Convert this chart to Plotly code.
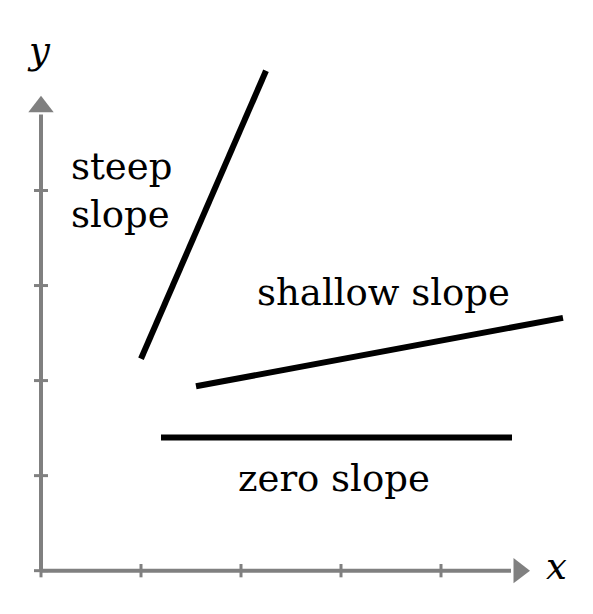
import plotly.graph_objects as go

# slope segments in axis units
line_names = ["steep", "shallow", "zero"]
line_x = [[1.0, 2.25], [1.55, 5.22], [1.2, 4.71]]
line_y = [[2.23, 5.26], [1.94, 2.66], [1.4, 1.4]]

tick_pos = [0, 1, 2, 3, 4]
labels = ["steep<br>slope", "shallow slope", "zero slope"]
label_x = [0.28, 3.42, 2.93]
label_y = [4.0, 2.93, 0.97]

gray = "#808080"
fig = go.Figure()

# axes
fig.add_trace(go.Scatter(x=[0, 0], y=[0, 4.8], mode="lines", line=dict(color=gray, width=4)))
fig.add_trace(go.Scatter(x=[0, 4.7], y=[0, 0], mode="lines", line=dict(color=gray, width=4)))
fig.add_trace(go.Scatter(x=[0], y=[4.88], mode="markers",
                         marker=dict(symbol="triangle-up", size=22, color=gray)))
fig.add_trace(go.Scatter(x=[4.78], y=[0], mode="markers",
                         marker=dict(symbol="triangle-right", size=22, color=gray)))

# ticks
for t in tick_pos:
    fig.add_trace(go.Scatter(x=[t, t], y=[-0.07, 0.07], mode="lines", line=dict(color=gray, width=3)))
    fig.add_trace(go.Scatter(x=[-0.07, 0.07], y=[t, t], mode="lines", line=dict(color=gray, width=3)))

for name, xs, ys in zip(line_names, line_x, line_y):
    fig.add_trace(go.Scatter(x=xs, y=ys, mode="lines", name=name, line=dict(color="black", width=6)))

font = dict(family="DejaVu Serif", size=37, color="black")
for txt, lx, ly in zip(labels, label_x, label_y):
    fig.add_annotation(x=lx, y=ly, text=txt, showarrow=False, font=font,
                       xanchor="left" if txt.startswith("steep") else "center", align="left")
fig.add_annotation(x=-0.02, y=5.47, text="<i>y</i>", showarrow=False, font=font)
fig.add_annotation(x=5.15, y=0.04, text="<i>x</i>", showarrow=False, font=font)

fig.update_layout(
    width=593, height=614, showlegend=False,
    margin=dict(l=0, r=0, t=0, b=0),
    plot_bgcolor="white", paper_bgcolor="white",
    xaxis=dict(range=[-0.33, 5.6], visible=False),
    yaxis=dict(range=[-0.54, 5.92], visible=False),
)
fig.write_html("out.html")
